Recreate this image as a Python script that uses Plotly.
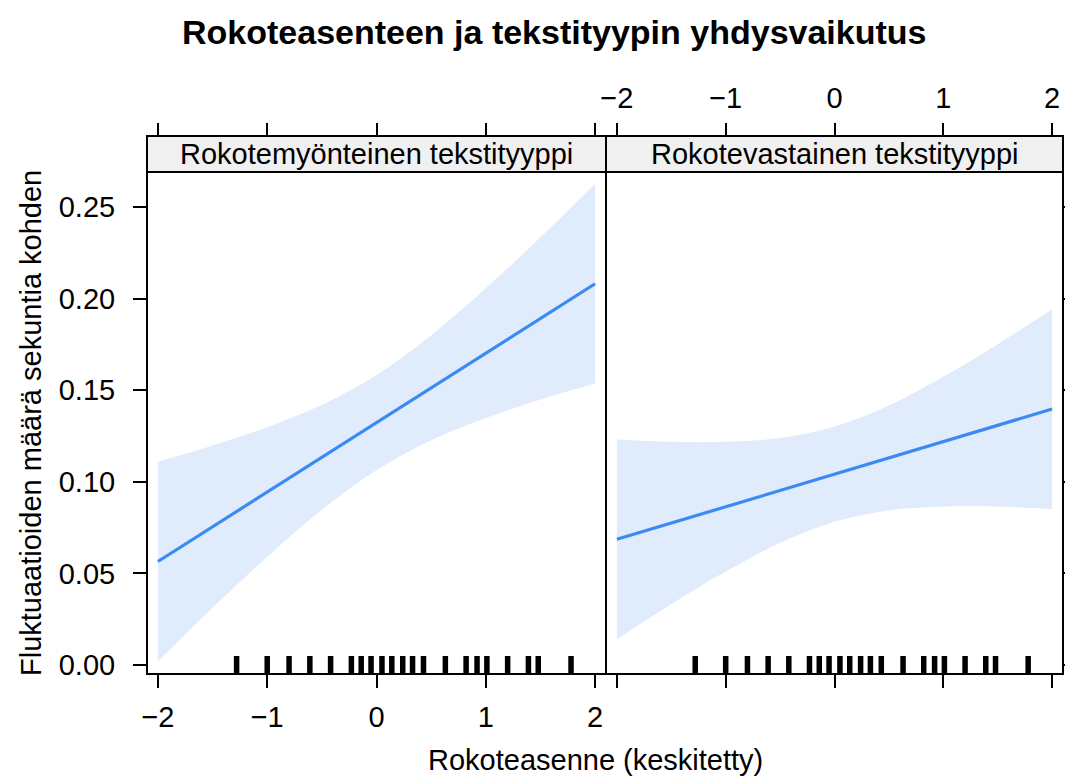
import plotly.graph_objects as go

# ---------------- data ----------------
panels = ["Rokotemyönteinen tekstityyppi", "Rokotevastainen tekstityyppi"]
x_grid = [-2.0, -1.5, -1.0, -0.5, 0.0, 0.5, 1.0, 1.5, 2.0]

fit_pos = [0.0565, 0.0755, 0.0944, 0.1134, 0.1323, 0.1513, 0.1702, 0.1892, 0.2081]
upper_pos = [0.1110, 0.1198, 0.1298, 0.1420, 0.1583, 0.1799, 0.2056, 0.2335, 0.2626]
lower_pos = [0.0020, 0.0312, 0.0590, 0.0848, 0.1063, 0.1227, 0.1348, 0.1449, 0.1536]

fit_neg = [0.0686, 0.0775, 0.0864, 0.0953, 0.1042, 0.1130, 0.1219, 0.1308, 0.1397]
upper_neg = [0.1231, 0.1218, 0.1218, 0.1239, 0.1302, 0.1416, 0.1573, 0.1751, 0.1942]
lower_neg = [0.0141, 0.0332, 0.0510, 0.0667, 0.0782, 0.0844, 0.0865, 0.0865, 0.0852]

rug_x = [-1.28, -1.00, -0.80, -0.61, -0.42, -0.23, -0.14, -0.05, 0.05, 0.14,
         0.24, 0.33, 0.43, 0.63, 0.82, 0.92, 1.01, 1.20, 1.39, 1.48, 1.78]

x_ticks = [-2, -1, 0, 1, 2]
y_ticks = [0.00, 0.05, 0.10, 0.15, 0.20, 0.25]
y_ticktext = ["0.00", "0.05", "0.10", "0.15", "0.20", "0.25"]

title = "Rokoteasenteen ja tekstityypin yhdysvaikutus"
x_title = "Rokoteasenne (keskitetty)"
y_title = "Fluktuaatioiden määrä sekuntia kohden"

# ---------------- layout geometry (pixels) ----------------
W, H = 1065, 778
P1 = (147, 606)
P2 = (606, 1063)
TOP_STRIP, BOT_STRIP, BOT = 136, 172, 674
X_RANGE = [-2.1, 2.1]
Y_RANGE = [-0.0049, 0.2691]

def px(x):
    return x / W

def py(y):
    return 1 - y / H

LINE_COL = "#3B8AF3"
BAND_COL = "#E0EBFC"
FONT = "Liberation Sans, Arial, Helvetica, sans-serif"
FS = 29

rug_h = (Y_RANGE[1] - Y_RANGE[0]) * 18 / (BOT - BOT_STRIP)

fig = go.Figure()

def add_panel(xaxis, fit, up, lo):
    fig.add_trace(go.Scatter(x=x_grid, y=up, mode="lines", line=dict(width=0, color=BAND_COL, shape="spline"),
                             xaxis=xaxis, yaxis="y", showlegend=False, hoverinfo="skip"))
    fig.add_trace(go.Scatter(x=x_grid, y=lo, mode="lines", line=dict(width=0, color=BAND_COL, shape="spline"),
                             fill="tonexty", fillcolor=BAND_COL,
                             xaxis=xaxis, yaxis="y", showlegend=False, hoverinfo="skip"))
    fig.add_trace(go.Scatter(x=x_grid, y=fit, mode="lines", line=dict(width=3.2, color=LINE_COL),
                             xaxis=xaxis, yaxis="y", showlegend=False))
    rx, ry = [], []
    for v in rug_x:
        rx += [v, v, None]
        ry += [Y_RANGE[0], Y_RANGE[0] + rug_h, None]
    fig.add_trace(go.Scatter(x=rx, y=ry, mode="lines", line=dict(width=5.5, color="black"),
                             xaxis=xaxis, yaxis="y", showlegend=False, hoverinfo="skip"))

add_panel("x", fit_pos, upper_pos, lower_pos)
add_panel("x2", fit_neg, upper_neg, lower_neg)

# dummy traces so that auxiliary axes are drawn
fig.add_trace(go.Scatter(x=[None], y=[None], xaxis="x3", yaxis="y", showlegend=False))
fig.add_trace(go.Scatter(x=[None], y=[None], xaxis="x4", yaxis="y", showlegend=False))
fig.add_trace(go.Scatter(x=[None], y=[None], xaxis="x2", yaxis="y2", showlegend=False))

common_x = dict(range=X_RANGE, tickvals=x_ticks, ticks="outside", ticklen=13, tickwidth=2,
                tickcolor="black", showgrid=False, zeroline=False, showline=False,
                tickfont=dict(size=FS, color="black"), fixedrange=True, automargin=False)

fig.update_layout(
    template="none",
    width=W, height=H,
    margin=dict(l=0, r=0, t=0, b=0, pad=0, autoexpand=False),
    paper_bgcolor="white", plot_bgcolor="white",
    font=dict(family=FONT, color="black", size=FS),
    xaxis=dict(domain=[px(P1[0]), px(P1[1])], anchor="y", showticklabels=True,
               ticklabelstandoff=4, **common_x),
    xaxis2=dict(domain=[px(P2[0]), px(P2[1])], anchor="y", showticklabels=False, **common_x),
    xaxis3=dict(overlaying="x", side="top", anchor="free", position=py(TOP_STRIP),
                showticklabels=False, **common_x),
    xaxis4=dict(overlaying="x2", side="top", anchor="free", position=py(TOP_STRIP),
                showticklabels=True, ticklabelstandoff=3, **common_x),
    yaxis=dict(domain=[py(BOT), py(BOT_STRIP)], anchor="x", range=Y_RANGE, tickvals=y_ticks,
               ticktext=y_ticktext, ticks="outside", ticklen=13, tickwidth=2, tickcolor="black",
               showgrid=False, zeroline=False, showline=False, ticklabelstandoff=12,
               tickfont=dict(size=FS, color="black"), fixedrange=True, automargin=False),
    yaxis2=dict(overlaying="y", side="right", anchor="x2", range=Y_RANGE, tickvals=y_ticks,
                ticks="outside", ticklen=13, tickwidth=2, tickcolor="black",
                showticklabels=False, showgrid=False, zeroline=False, showline=False,
                automargin=False),
)

shapes = []
for (a, b) in (P1, P2):
    shapes.append(dict(type="rect", xref="paper", yref="paper", x0=px(a), x1=px(b),
                       y0=py(BOT_STRIP), y1=py(TOP_STRIP), fillcolor="#F0F0F0",
                       line=dict(color="black", width=2), layer="below"))
    shapes.append(dict(type="rect", xref="paper", yref="paper", x0=px(a), x1=px(b),
                       y0=py(BOT), y1=py(TOP_STRIP), fillcolor="rgba(0,0,0,0)",
                       line=dict(color="black", width=2), layer="above"))
fig.update_layout(shapes=shapes)

annotations = [
    dict(text="<b>" + title + "</b>", x=px(554), y=py(32), xref="paper", yref="paper",
         showarrow=False, font=dict(size=34), xanchor="center", yanchor="middle"),
    dict(text=x_title, x=px(595), y=py(760), xref="paper", yref="paper",
         showarrow=False, font=dict(size=FS), xanchor="center", yanchor="middle"),
    dict(text=y_title, x=px(31), y=py(423), xref="paper", yref="paper", textangle=-90,
         showarrow=False, font=dict(size=FS), xanchor="center", yanchor="middle"),
]
for name, (a, b) in zip(panels, (P1, P2)):
    annotations.append(dict(text=name, x=px((a + b) / 2), y=py((TOP_STRIP + BOT_STRIP) / 2),
                            xref="paper", yref="paper", showarrow=False, font=dict(size=FS),
                            xanchor="center", yanchor="middle"))
fig.update_layout(annotations=annotations)

fig.write_html("out.html", config={"displayModeBar": False},
               post_script="document.body.style.margin='0';")
